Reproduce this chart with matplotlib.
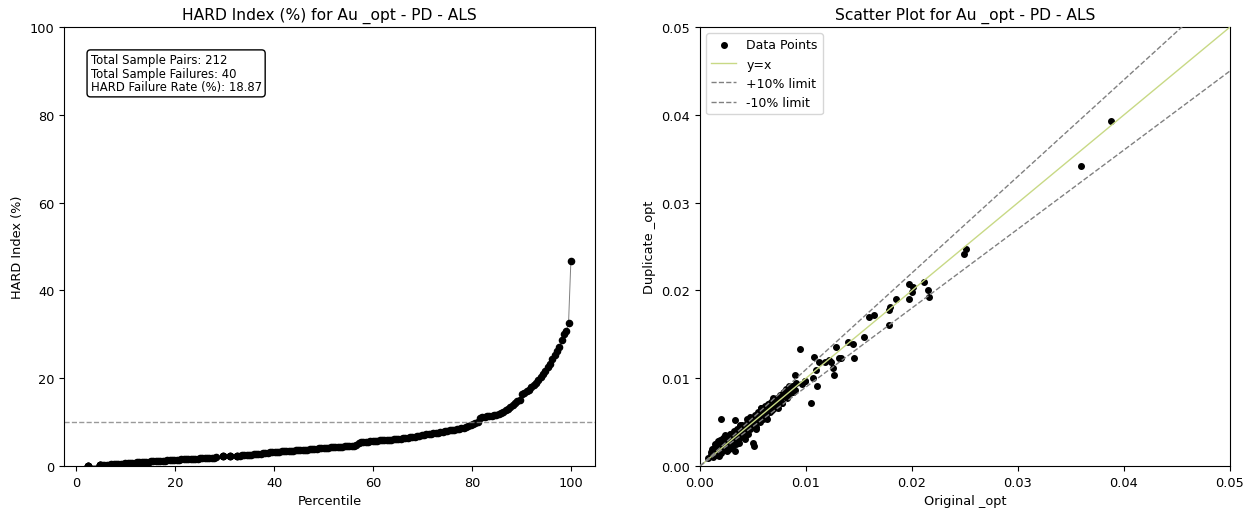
import numpy as np
import pandas as pd
import matplotlib
matplotlib.use('Agg')
import matplotlib.pyplot as plt

plt.rcParams['font.size'] = 9.3

# sorted HARD index values (%) for the 212 sample pairs
hard_values = [
    0.0, 0.0, 0.0, 0.0, 0.0,
    0.15, 0.15, 0.15, 0.15, 0.15,
    0.2, 0.24, 0.28, 0.32, 0.36, 0.4, 0.44, 0.48, 0.52, 0.56, 0.6,
    0.64, 0.68, 0.72, 0.76, 0.8, 0.84, 0.88, 0.92, 0.96, 1.0, 1.03, 1.06, 1.09, 1.12, 1.16,
    1.2, 1.24, 1.28, 1.32, 1.36, 1.4,
    1.43, 1.46, 1.49, 1.52, 1.55, 1.58, 1.61, 1.64, 1.67, 1.7, 1.73, 1.76, 1.79, 1.82, 1.85,
    1.88, 1.91, 1.95,
    2.2, 2.2, 2.2, 2.25, 2.25, 2.25, 2.3, 2.3, 2.3,
    2.35, 2.4, 2.45, 2.5, 2.55, 2.6, 2.66, 2.72, 2.78, 2.84, 2.9, 2.96, 3.02, 3.08, 3.14, 3.2,
    3.24, 3.28, 3.32, 3.36, 3.4, 3.44, 3.48, 3.52, 3.56, 3.6, 3.64, 3.68, 3.72, 3.76, 3.8,
    3.85, 3.9, 3.95, 4.0, 4.05, 4.1,
    4.14, 4.18, 4.22, 4.26, 4.3, 4.34, 4.38, 4.42, 4.46, 4.5, 4.55, 4.6, 4.65, 4.7,
    5.3, 5.37, 5.44, 5.5, 5.57, 5.64, 5.7,
    5.74, 5.78, 5.82, 5.86, 5.9, 5.94, 5.98, 6.02, 6.05, 6.08, 6.1,
    6.18, 6.27, 6.36, 6.45, 6.54, 6.63, 6.72, 6.81, 6.9, 7.0,
    7.09, 7.18, 7.27, 7.36, 7.45, 7.54, 7.63, 7.72, 7.81, 7.9, 8.0,
    8.1, 8.2, 8.3, 8.4, 8.5, 8.6, 8.75, 8.9, 9.1, 9.3, 9.6, 9.8, 9.95,
    11.0, 11.1, 11.2, 11.3, 11.4, 11.5, 11.6, 11.7, 11.9, 12.1, 12.4, 12.7, 13.0, 13.4, 13.8,
    14.3, 14.8, 15.0, 16.3, 16.6, 17.0, 17.4, 17.9, 18.4, 19.0, 19.6, 20.3, 21.0, 21.7, 22.5,
    23.3, 24.3, 25.3, 26.3, 27.0, 28.8, 30.0, 30.7, 32.5, 46.6,
]

original = [
    0.0008, 0.0010, 0.0010, 0.0011, 0.0012, 0.0012, 0.0013, 0.0013, 0.0014, 0.0014,
    0.0015, 0.0015, 0.0016, 0.0016, 0.0017, 0.0017, 0.0018, 0.0018, 0.0019, 0.0019,
    0.0020, 0.0020, 0.0020, 0.0021, 0.0021, 0.0022, 0.0022, 0.0023, 0.0023, 0.0024,
    0.0024, 0.0025, 0.0025, 0.0026, 0.0026, 0.0027, 0.0027, 0.0028, 0.0028, 0.0029,
    0.0029, 0.0030, 0.0030, 0.0031, 0.0031, 0.0032, 0.0032, 0.0033, 0.0033, 0.0033,
    0.0034, 0.0034, 0.0035, 0.0035, 0.0036, 0.0036, 0.0037, 0.0037, 0.0038, 0.0038,
    0.0039, 0.0039, 0.0040, 0.0040, 0.0041, 0.0041, 0.0042, 0.0042, 0.0043, 0.0043,
    0.0044, 0.0044, 0.0045, 0.0045, 0.0046, 0.0046, 0.0047, 0.0047, 0.0048, 0.0048,
    0.0049, 0.0049, 0.0050, 0.0050, 0.0051, 0.0051, 0.0052, 0.0052, 0.0053, 0.0053,
    0.0054, 0.0055, 0.0055, 0.0056, 0.0057, 0.0057, 0.0058, 0.0058, 0.0059, 0.0060,
    0.0060, 0.0061, 0.0062, 0.0062, 0.0063, 0.0064, 0.0064, 0.0065, 0.0066, 0.0066,
    0.0067, 0.0068, 0.0068, 0.0069, 0.0070, 0.0070, 0.0071, 0.0072, 0.0073, 0.0074,
    0.0075, 0.0076, 0.0077, 0.0078, 0.0079, 0.0080, 0.0081, 0.0082, 0.0083, 0.0084,
    0.0085, 0.0086, 0.0088, 0.0088, 0.0090, 0.0090, 0.0091, 0.0094, 0.0096, 0.0099,
    0.0077, 0.0079, 0.0088, 0.0088, 0.0099, 0.0105, 0.0107, 0.0108, 0.0109, 0.0110,
    0.0112, 0.0118, 0.0122, 0.0124, 0.0125, 0.0126, 0.0128, 0.0131, 0.0133, 0.0140,
    0.0144, 0.0145, 0.0155, 0.0159, 0.0164, 0.0178, 0.0178, 0.0179, 0.0185, 0.0197,
    0.0197, 0.0200, 0.0201, 0.0211, 0.0215, 0.0216, 0.0249, 0.0251, 0.0359, 0.0388,
    0.0015, 0.0018, 0.0022, 0.0025, 0.0029, 0.0034, 0.0038, 0.0042, 0.0047, 0.0053,
    0.0058, 0.0063, 0.0069, 0.0074, 0.0027, 0.0044,
]

duplicate = [
    0.0009, 0.0012, 0.0016, 0.0019, 0.0010, 0.0014, 0.0021, 0.0017, 0.0012, 0.0025,
    0.0018, 0.0013, 0.0022, 0.0015, 0.0028, 0.0019, 0.0014, 0.0024, 0.0017, 0.0030,
    0.0054, 0.0021, 0.0015, 0.0026, 0.0019, 0.0023, 0.0031, 0.0018, 0.0027, 0.0022,
    0.0035, 0.0021, 0.0028, 0.0024, 0.0032, 0.0019, 0.0029, 0.0026, 0.0037, 0.0024,
    0.0031, 0.0028, 0.0022, 0.0034, 0.0029, 0.0040, 0.0026, 0.0052, 0.0017, 0.0031,
    0.0036, 0.0028, 0.0033, 0.0042, 0.0030, 0.0038, 0.0035, 0.0026, 0.0044, 0.0036,
    0.0033, 0.0041, 0.0038, 0.0047, 0.0036, 0.0043, 0.0040, 0.0031, 0.0046, 0.0041,
    0.0049, 0.0039, 0.0044, 0.0036, 0.0052, 0.0045, 0.0042, 0.0050, 0.0047, 0.0055,
    0.0044, 0.0051, 0.0026, 0.0048, 0.0023, 0.0053, 0.0049, 0.0058, 0.0052, 0.0045,
    0.0056, 0.0062, 0.0051, 0.0055, 0.0060, 0.0050, 0.0066, 0.0057, 0.0054, 0.0063,
    0.0058, 0.0068, 0.0060, 0.0056, 0.0066, 0.0071, 0.0062, 0.0067, 0.0061, 0.0072,
    0.0068, 0.0064, 0.0074, 0.0070, 0.0066, 0.0076, 0.0073, 0.0069, 0.0078, 0.0073,
    0.0081, 0.0077, 0.0072, 0.0083, 0.0084, 0.0080, 0.0088, 0.0077, 0.0086, 0.0091,
    0.0083, 0.0089, 0.0091, 0.0084, 0.0104, 0.0087, 0.0095, 0.0133, 0.0093, 0.0097,
    0.0072, 0.0084, 0.0091, 0.0084, 0.0097, 0.0072, 0.0100, 0.0124, 0.0109, 0.0091,
    0.0118, 0.0118, 0.0121, 0.0118, 0.0112, 0.0104, 0.0135, 0.0123, 0.0123, 0.0141,
    0.0139, 0.0123, 0.0147, 0.0170, 0.0172, 0.0178, 0.0161, 0.0181, 0.0190, 0.0207,
    0.0190, 0.0198, 0.0204, 0.0210, 0.0201, 0.0192, 0.0241, 0.0247, 0.0342, 0.0393,
    0.0025, 0.0011, 0.0032, 0.0017, 0.0037, 0.0025, 0.0047, 0.0034, 0.0056, 0.0042,
    0.0066, 0.0054, 0.0077, 0.0066, 0.0021, 0.0054,
]

total_pairs = 212
total_failures = 40
failure_rate = 18.87

hard = pd.Series(hard_values)
percentile = hard.rank(method='max', pct=True) * 100

fig = plt.figure(figsize=(12.5, 5.1), dpi=100)
ax1 = fig.add_axes([0.0512, 0.0843, 0.4248, 0.8607])
ax2 = fig.add_axes([0.56, 0.0843, 0.424, 0.8607])

# left: HARD index by percentile
ax1.plot(percentile, hard, color='gray', linewidth=0.7, zorder=1)
ax1.scatter(percentile, hard, color='black', s=20, zorder=2)
ax1.axhline(10, color='gray', linestyle='--', linewidth=1, alpha=0.8)
ax1.set_ylim(0, 100)
ax1.set_title('HARD Index (%) for Au _opt - PD - ALS', fontsize=11.2)
ax1.set_xlabel('Percentile')
ax1.set_ylabel('HARD Index (%)')
txt = (f'Total Sample Pairs: {total_pairs}\nTotal Sample Failures: {total_failures}\n'
       f'HARD Failure Rate (%): {failure_rate}')
ax1.text(0.05, 0.94, txt, transform=ax1.transAxes, fontsize=8.4, va='top',
         linespacing=1.05,
         bbox=dict(boxstyle='round', facecolor='white', edgecolor='black'))

# right: original vs duplicate
lim = [0, 0.05]
ax2.scatter(original, duplicate, color='black', s=16, label='Data Points', zorder=2)
ax2.plot(lim, lim, color='#c8d985', linewidth=1, label='y=x', zorder=3)
ax2.plot(lim, [1.1 * v for v in lim], color='gray', linestyle='--', linewidth=1,
         label='+10% limit', zorder=3)
ax2.plot(lim, [0.9 * v for v in lim], color='gray', linestyle='--', linewidth=1,
         label='-10% limit', zorder=3)
ax2.set_xlim(lim)
ax2.set_ylim(lim)
ax2.set_xticks([0, 0.01, 0.02, 0.03, 0.04, 0.05])
ax2.set_yticks([0, 0.01, 0.02, 0.03, 0.04, 0.05])
ax2.set_title('Scatter Plot for Au _opt - PD - ALS', fontsize=11.2)
ax2.set_xlabel('Original _opt')
ax2.set_ylabel('Duplicate _opt')
ax2.legend(loc='upper left', fontsize=9)

fig.savefig('out.png', dpi=100)
